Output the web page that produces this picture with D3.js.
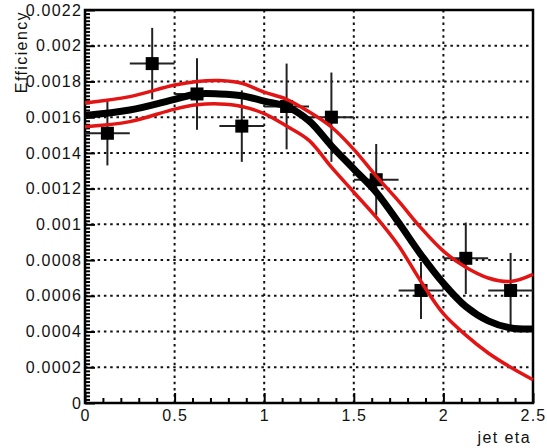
<!DOCTYPE html>
<html lang="en">
  <head>
    <meta charset="UTF-8" />
    <title>Efficiency vs jet eta</title>
    <script src="https://d3js.org/d3.v7.min.js"></script>
    <style>
      body { margin: 0; background: #fff; }
      text { font-family: "Liberation Sans", Arial, sans-serif; }
    </style>
  </head>
  <body>
    <div id="svgCanvas"></div>
    <script>
      // measured points (bins of 0.25 in eta)
      var binCenters = [0.125, 0.375, 0.625, 0.875, 1.125, 1.375, 1.625, 1.875, 2.125, 2.375];
      var binHalfWidths = [0.125, 0.125, 0.125, 0.125, 0.125, 0.125, 0.125, 0.125, 0.125, 0.125];
      var effValues = [0.00151, 0.0019, 0.00173, 0.00155, 0.00166, 0.0016, 0.00125, 0.00063, 0.00081, 0.00063];
      var effErrors = [0.00018, 0.0002, 0.0002, 0.0002, 0.00024, 0.00025, 0.0002, 0.00016, 0.0002, 0.00021];

      // fit curve and its band, read at these eta values
      var etaGrid = [0, 0.25, 0.5, 0.625, 0.75, 0.875, 1.0, 1.125, 1.25, 1.375, 1.5, 1.625, 1.75, 1.875, 2.0, 2.125, 2.25, 2.375, 2.5];
      var fitCentral = [0.00161, 0.00164, 0.0017, 0.00173, 0.00173, 0.00172, 0.00169, 0.00166, 0.00158, 0.00144, 0.00131, 0.00118, 0.00101, 0.00083, 0.00067, 0.00054, 0.00046, 0.00042, 0.000414];
      var fitUpper = [0.00168, 0.001715, 0.00178, 0.0018, 0.001805, 0.00179, 0.00174, 0.0017, 0.00163, 0.001545, 0.00142, 0.00127, 0.00113, 0.00098, 0.00085, 0.00076, 0.0007, 0.00068, 0.00072];
      var fitLower = [0.001547, 0.001575, 0.001645, 0.001669, 0.001674, 0.00166, 0.00162, 0.00155, 0.00147, 0.00132, 0.00118, 0.00104, 0.00088, 0.00068, 0.0005, 0.00038, 0.00028, 0.0002, 0.00013];

      var yTickValues = [0, 0.0002, 0.0004, 0.0006, 0.0008, 0.001, 0.0012, 0.0014, 0.0016, 0.0018, 0.002, 0.0022];
      var yTickLabels = ["0", "0.0002", "0.0004", "0.0006", "0.0008", "0.001", "0.0012", "0.0014", "0.0016", "0.0018", "0.002", "0.0022"];
      var xTickValues = [0, 0.5, 1, 1.5, 2, 2.5];
      var xTickLabels = ["0", "0.5", "1", "1.5", "2", "2.5"];

      var W = 547, H = 448;
      var padL = 85, padR = 533, padT = 10, padB = 403;

      var svg = d3.select("#svgCanvas").append("svg")
        .attr("width", W)
        .attr("height", H);

      svg.append("rect")
        .attr("width", W).attr("height", H)
        .attr("fill", "#fff");

      var x = d3.scaleLinear().domain([0, 2.5]).range([padL, padR]);
      var y = d3.scaleLinear().domain([0, 0.0022]).range([padB, padT]);

      // dotted grid
      svg.append("g").selectAll("line")
        .data(yTickValues.slice(1, -1))
        .join("line")
        .attr("x1", padL).attr("x2", padR)
        .attr("y1", d => y(d)).attr("y2", d => y(d))
        .attr("stroke", "#111")
        .attr("stroke-width", 2)
        .attr("stroke-dasharray", "2.5,3.8");
      svg.append("g").selectAll("line")
        .data(xTickValues.slice(1, -1))
        .join("line")
        .attr("x1", d => x(d)).attr("x2", d => x(d))
        .attr("y1", padT).attr("y2", padB)
        .attr("stroke", "#111")
        .attr("stroke-width", 2)
        .attr("stroke-dasharray", "2.5,3.8");

      // minor ticks
      var yMinor = d3.range(0, 111).map(i => i * 0.00002).filter((d, i) => i % 10 != 0);
      var xMinor = d3.range(0, 26).map(i => i * 0.1).filter((d, i) => i % 5 != 0);

      svg.append("g")
        .attr("transform", "translate(" + padL + ",0)")
        .call(d3.axisLeft(y).tickValues(yMinor).tickSize(-5).tickSizeOuter(0).tickFormat(""))
        .call(g => g.select(".domain").remove())
        .selectAll("line").attr("stroke", "#000").attr("stroke-width", 2);
      svg.append("g")
        .attr("transform", "translate(0," + padB + ")")
        .call(d3.axisBottom(x).tickValues(xMinor).tickSize(-5).tickSizeOuter(0).tickFormat(""))
        .call(g => g.select(".domain").remove())
        .selectAll("line").attr("stroke", "#000").attr("stroke-width", 2);

      // major ticks + labels
      var gY = svg.append("g")
        .attr("transform", "translate(" + padL + ",0)")
        .call(d3.axisLeft(y).tickValues(yTickValues).tickSize(-10).tickSizeOuter(0).tickPadding(3)
          .tickFormat((d, i) => yTickLabels[i]));
      gY.select(".domain").remove();
      gY.selectAll("line").attr("stroke", "#000").attr("stroke-width", 2);
      gY.selectAll("text")
        .attr("font-size", 16)
        .attr("letter-spacing", "1.2px")
        .attr("fill", "#111");

      var gX = svg.append("g")
        .attr("transform", "translate(0," + padB + ")")
        .call(d3.axisBottom(x).tickValues(xTickValues).tickSize(-10).tickSizeOuter(0).tickPadding(7)
          .tickFormat((d, i) => xTickLabels[i]));
      gX.select(".domain").remove();
      gX.selectAll("line").attr("stroke", "#000").attr("stroke-width", 2);
      gX.selectAll("text")
        .attr("font-size", 16)
        .attr("letter-spacing", "1.2px")
        .attr("fill", "#111");

      // frame
      svg.append("rect")
        .attr("x", padL).attr("y", padT)
        .attr("width", padR - padL).attr("height", padB - padT)
        .attr("fill", "none")
        .attr("stroke", "#000")
        .attr("stroke-width", 2.5);

      // axis titles
      svg.append("text")
        .attr("transform", "translate(27," + (padT + 1) + ") rotate(-90)")
        .attr("text-anchor", "end")
        .attr("font-size", 16)
        .attr("letter-spacing", "1.4px")
        .attr("fill", "#111")
        .text("Efficiency");
      svg.append("text")
        .attr("x", 531).attr("y", 443)
        .attr("text-anchor", "end")
        .attr("font-size", 16)
        .attr("letter-spacing", "1.4px")
        .attr("fill", "#111")
        .text("jet eta");

      // data points with error bars
      var points = binCenters.map((c, i) => ({ x: c, dx: binHalfWidths[i], v: effValues[i], e: effErrors[i] }));
      var gP = svg.append("g");
      gP.selectAll("line.xerr")
        .data(points).join("line").attr("class", "xerr")
        .attr("x1", d => x(d.x - d.dx)).attr("x2", d => x(d.x + d.dx))
        .attr("y1", d => y(d.v)).attr("y2", d => y(d.v))
        .attr("stroke", "#222").attr("stroke-width", 2);
      gP.selectAll("line.yerr")
        .data(points).join("line").attr("class", "yerr")
        .attr("x1", d => x(d.x)).attr("x2", d => x(d.x))
        .attr("y1", d => y(d.v - d.e)).attr("y2", d => y(d.v + d.e))
        .attr("stroke", "#222").attr("stroke-width", 2);
      gP.selectAll("rect")
        .data(points).join("rect")
        .attr("x", d => x(d.x) - 6.5).attr("y", d => y(d.v) - 6.5)
        .attr("width", 13).attr("height", 13)
        .attr("fill", "#000");

      // fit and band
      var line = d3.line()
        .curve(d3.curveCatmullRom)
        .x(d => x(d[0]))
        .y(d => y(d[1]));

      svg.append("path")
        .attr("d", line(etaGrid.map((e, i) => [e, fitCentral[i]])))
        .attr("fill", "none")
        .attr("stroke", "#000")
        .attr("stroke-width", 7);
      [fitUpper, fitLower].forEach(function (band) {
        svg.append("path")
          .attr("d", line(etaGrid.map((e, i) => [e, band[i]])))
          .attr("fill", "none")
          .attr("stroke", "#e31414")
          .attr("stroke-width", 3.5);
      });
    </script>
  </body>
</html>
